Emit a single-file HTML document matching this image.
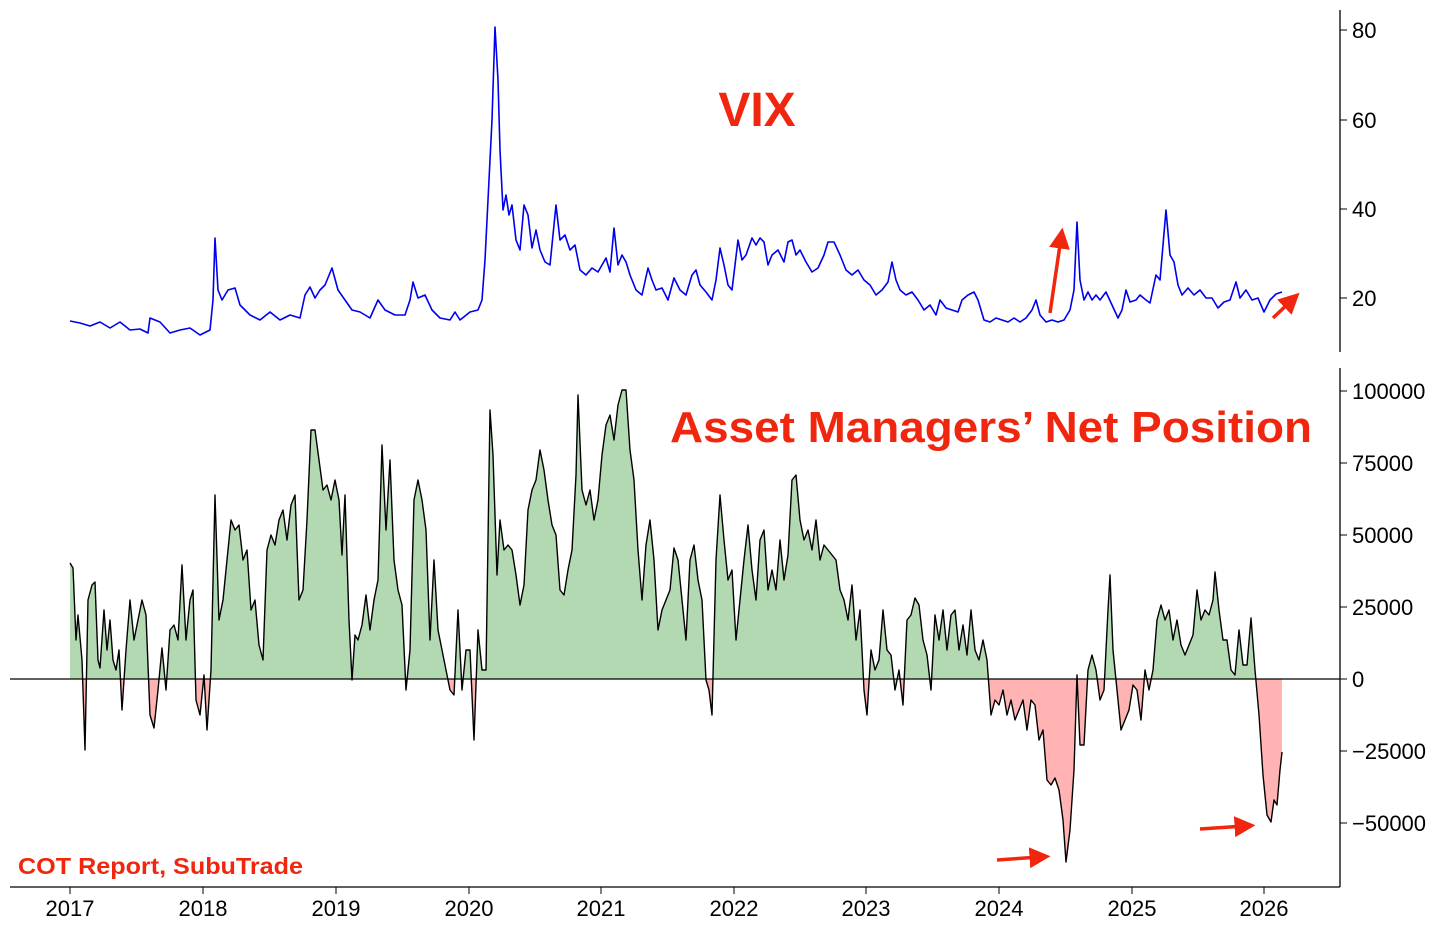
<!DOCTYPE html>
<html><head><meta charset="utf-8"><style>
html,body{margin:0;padding:0;background:#fff;}
svg{display:block;font-family:"Liberation Sans","DejaVu Sans",sans-serif;}
.t{font-size:22px;fill:#000;}
.r{fill:#f0260f;font-weight:bold;}
</style></head><body>
<svg width="1456" height="931" viewBox="0 0 1456 931" xmlns="http://www.w3.org/2000/svg">
<defs>
<clipPath id="cu"><rect x="0" y="0" width="1456" height="679"/></clipPath>
<clipPath id="cd"><rect x="0" y="679" width="1456" height="300"/></clipPath>
<marker id="ah" markerWidth="6" markerHeight="6" refX="3" refY="3" orient="auto" markerUnits="strokeWidth"><path d="M0,0 L6,3 L0,6 z" fill="#f0260f"/></marker>
<polygon id="pf" points="70,679 70,563 73,568 76,640 78,615 82,660 85,750 88,600 92,585 95,582 98,660 100,668 104,610 107,650 110,620 113,660 116,670 119,650 122,710 126,650 130,600 134,640 138,620 142,600 146,615 150,715 154,728 158,690 162,648 166,690 170,630 174,625 178,640 182,565 186,640 190,600 193,590 196,700 200,715 204,675 207,730 211,670 215,495 219,620 223,600 227,560 231,520 235,530 239,525 243,560 247,550 251,610 255,600 259,645 263,660 267,550 271,535 275,545 279,520 283,510 287,540 291,505 295,495 299,600 303,590 307,520 311,430 315,430 319,460 323,490 327,485 331,500 335,480 339,500 342,555 345,495 349,620 352,680 355,635 358,640 362,625 366,595 370,630 374,600 378,580 382,445 386,530 390,460 394,560 398,590 402,605 406,690 410,650 414,500 418,480 422,500 426,530 430,640 434,560 438,630 442,650 446,670 450,690 454,695 458,610 462,690 466,650 470,650 474,740 478,630 482,670 486,670 490,410 493,455 497,575 500,520 504,550 508,545 512,550 516,575 520,605 524,585 528,510 532,490 536,480 540,450 544,470 548,500 552,525 556,535 560,590 564,595 568,570 572,550 576,475 578,395 582,490 586,505 590,490 594,520 598,500 602,455 606,425 610,415 614,440 618,405 622,390 626,390 630,450 634,480 638,550 642,600 646,545 650,520 654,560 658,630 662,610 666,600 670,590 674,548 678,560 682,600 686,640 690,560 694,545 698,580 702,600 706,680 709,690 712,715 716,560 720,495 724,540 728,580 732,570 736,640 740,600 744,560 748,525 752,570 756,600 760,540 764,530 768,590 772,570 776,590 780,540 784,580 788,555 792,480 796,475 800,520 804,540 808,530 812,550 816,520 820,560 824,545 828,550 832,555 836,560 840,590 844,600 848,620 852,585 856,640 860,610 864,690 867,715 871,650 875,670 879,660 883,610 887,650 891,655 895,690 899,670 903,705 907,620 911,615 915,598 919,605 923,640 927,655 931,690 935,615 939,640 943,610 947,650 951,615 955,610 959,650 963,625 967,655 971,610 975,650 979,660 983,640 987,660 991,715 995,700 999,705 1003,690 1007,715 1011,700 1015,720 1019,710 1023,700 1027,730 1031,700 1035,705 1039,740 1043,730 1047,780 1051,785 1055,778 1059,790 1063,820 1066,862 1070,830 1074,770 1077,675 1080,745 1084,745 1088,670 1092,655 1096,670 1100,700 1104,690 1108,610 1110,575 1113,650 1117,690 1121,730 1125,720 1129,710 1133,685 1137,690 1141,720 1145,670 1149,690 1153,670 1157,620 1161,605 1165,620 1169,610 1173,640 1177,620 1181,645 1185,655 1189,645 1193,635 1197,590 1201,620 1205,610 1209,615 1213,600 1215,572 1219,610 1223,640 1227,640 1231,670 1235,675 1239,630 1243,665 1247,665 1251,618 1255,670 1259,715 1263,775 1267,815 1271,822 1274,800 1277,805 1280,770 1282,752 1282,679"/>
</defs>
<!-- top axis -->
<line x1="1340" y1="10" x2="1340" y2="352" stroke="#000" stroke-width="1.3"/>
<g class="t">
<line x1="1340" y1="30" x2="1347" y2="30" stroke="#000"/><text x="1352" y="38">80</text>
<line x1="1340" y1="120" x2="1347" y2="120" stroke="#000"/><text x="1352" y="128">60</text>
<line x1="1340" y1="209" x2="1347" y2="209" stroke="#000"/><text x="1352" y="217">40</text>
<line x1="1340" y1="298" x2="1347" y2="298" stroke="#000"/><text x="1352" y="306">20</text>
</g>
<polyline fill="none" stroke="#0000ee" stroke-width="1.6" stroke-linejoin="round" points="70,321 80,323 90,326 100,322 110,328 120,322 130,330 140,329 148,333 150,318 160,322 170,333 180,330 190,328 200,335 210,330 213,300 215,238 218,290 222,300 228,290 235,288 240,305 250,315 260,320 270,312 280,320 290,315 300,318 305,295 310,287 315,298 320,290 325,285 332,268 338,290 345,300 352,310 360,312 370,318 378,300 385,310 395,315 405,315 410,300 413,282 418,298 425,295 432,310 440,318 450,320 455,312 460,320 470,312 478,310 482,300 485,260 488,200 492,120 495,27 498,80 500,150 503,210 506,195 509,215 512,205 516,240 520,250 524,205 528,215 532,248 536,230 540,250 545,262 550,265 556,205 560,240 565,235 570,250 575,245 580,270 586,275 592,268 598,272 602,265 606,258 610,272 614,228 618,265 622,255 626,262 630,275 636,290 642,295 648,268 652,280 656,290 662,288 668,300 674,278 680,290 686,295 692,275 696,270 700,285 706,292 712,300 716,280 720,248 724,265 728,285 732,290 738,240 742,260 746,255 752,238 756,245 760,238 764,242 768,265 772,255 778,250 784,262 788,242 792,240 796,255 800,250 806,262 812,272 818,268 824,255 828,242 834,242 840,255 846,270 852,275 858,270 864,280 870,285 876,295 882,290 888,282 892,262 896,280 900,290 906,295 912,292 918,300 924,310 930,305 936,315 940,300 946,308 952,310 958,312 962,300 968,295 974,292 978,300 984,320 990,322 996,318 1002,320 1008,322 1014,318 1020,322 1026,318 1032,310 1036,300 1040,315 1046,322 1052,320 1058,322 1064,320 1070,310 1074,290 1077,222 1080,280 1084,300 1088,292 1092,300 1096,295 1100,300 1106,292 1112,305 1118,318 1122,310 1126,290 1130,302 1136,300 1140,295 1146,300 1150,303 1156,275 1160,280 1163,245 1166,210 1170,255 1174,262 1178,285 1182,295 1188,288 1194,295 1200,290 1206,298 1212,298 1218,308 1224,302 1230,300 1236,282 1240,298 1246,290 1252,300 1258,298 1264,312 1270,300 1276,294 1282,292"/>
<text x="757" y="126" text-anchor="middle" class="r" font-size="48">VIX</text>
<line x1="1050" y1="313" x2="1061" y2="238" stroke="#f0260f" stroke-width="3.5" marker-end="url(#ah)"/>
<line x1="1273" y1="318" x2="1292" y2="300" stroke="#f0260f" stroke-width="3.5" marker-end="url(#ah)"/>

<!-- bottom -->
<use href="#pf" fill="#b3d9b3" clip-path="url(#cu)"/>
<use href="#pf" fill="#ffb3b3" clip-path="url(#cd)"/>
<polyline fill="none" stroke="#000" stroke-width="1.4" stroke-linejoin="round" points="70,563 73,568 76,640 78,615 82,660 85,750 88,600 92,585 95,582 98,660 100,668 104,610 107,650 110,620 113,660 116,670 119,650 122,710 126,650 130,600 134,640 138,620 142,600 146,615 150,715 154,728 158,690 162,648 166,690 170,630 174,625 178,640 182,565 186,640 190,600 193,590 196,700 200,715 204,675 207,730 211,670 215,495 219,620 223,600 227,560 231,520 235,530 239,525 243,560 247,550 251,610 255,600 259,645 263,660 267,550 271,535 275,545 279,520 283,510 287,540 291,505 295,495 299,600 303,590 307,520 311,430 315,430 319,460 323,490 327,485 331,500 335,480 339,500 342,555 345,495 349,620 352,680 355,635 358,640 362,625 366,595 370,630 374,600 378,580 382,445 386,530 390,460 394,560 398,590 402,605 406,690 410,650 414,500 418,480 422,500 426,530 430,640 434,560 438,630 442,650 446,670 450,690 454,695 458,610 462,690 466,650 470,650 474,740 478,630 482,670 486,670 490,410 493,455 497,575 500,520 504,550 508,545 512,550 516,575 520,605 524,585 528,510 532,490 536,480 540,450 544,470 548,500 552,525 556,535 560,590 564,595 568,570 572,550 576,475 578,395 582,490 586,505 590,490 594,520 598,500 602,455 606,425 610,415 614,440 618,405 622,390 626,390 630,450 634,480 638,550 642,600 646,545 650,520 654,560 658,630 662,610 666,600 670,590 674,548 678,560 682,600 686,640 690,560 694,545 698,580 702,600 706,680 709,690 712,715 716,560 720,495 724,540 728,580 732,570 736,640 740,600 744,560 748,525 752,570 756,600 760,540 764,530 768,590 772,570 776,590 780,540 784,580 788,555 792,480 796,475 800,520 804,540 808,530 812,550 816,520 820,560 824,545 828,550 832,555 836,560 840,590 844,600 848,620 852,585 856,640 860,610 864,690 867,715 871,650 875,670 879,660 883,610 887,650 891,655 895,690 899,670 903,705 907,620 911,615 915,598 919,605 923,640 927,655 931,690 935,615 939,640 943,610 947,650 951,615 955,610 959,650 963,625 967,655 971,610 975,650 979,660 983,640 987,660 991,715 995,700 999,705 1003,690 1007,715 1011,700 1015,720 1019,710 1023,700 1027,730 1031,700 1035,705 1039,740 1043,730 1047,780 1051,785 1055,778 1059,790 1063,820 1066,862 1070,830 1074,770 1077,675 1080,745 1084,745 1088,670 1092,655 1096,670 1100,700 1104,690 1108,610 1110,575 1113,650 1117,690 1121,730 1125,720 1129,710 1133,685 1137,690 1141,720 1145,670 1149,690 1153,670 1157,620 1161,605 1165,620 1169,610 1173,640 1177,620 1181,645 1185,655 1189,645 1193,635 1197,590 1201,620 1205,610 1209,615 1213,600 1215,572 1219,610 1223,640 1227,640 1231,670 1235,675 1239,630 1243,665 1247,665 1251,618 1255,670 1259,715 1263,775 1267,815 1271,822 1274,800 1277,805 1280,770 1282,752"/>
<line x1="10" y1="679" x2="1340" y2="679" stroke="#000" stroke-width="1.3"/>
<line x1="1340" y1="368" x2="1340" y2="887" stroke="#000" stroke-width="1.3"/>
<line x1="10" y1="887" x2="1340" y2="887" stroke="#000" stroke-width="1.3"/>
<g class="t" stroke-width="1">
<line x1="1340" y1="391" x2="1347" y2="391" stroke="#000"/><text x="1352" y="399">100000</text>
<line x1="1340" y1="463" x2="1347" y2="463" stroke="#000"/><text x="1352" y="471">75000</text>
<line x1="1340" y1="535" x2="1347" y2="535" stroke="#000"/><text x="1352" y="543">50000</text>
<line x1="1340" y1="607" x2="1347" y2="607" stroke="#000"/><text x="1352" y="615">25000</text>
<line x1="1340" y1="679" x2="1347" y2="679" stroke="#000"/><text x="1352" y="687">0</text>
<line x1="1340" y1="751" x2="1347" y2="751" stroke="#000"/><text x="1352" y="759">−25000</text>
<line x1="1340" y1="823" x2="1347" y2="823" stroke="#000"/><text x="1352" y="831">−50000</text>
</g>
<g class="t" text-anchor="middle">
<line x1="70" y1="887" x2="70" y2="894" stroke="#000"/><text x="70" y="916">2017</text>
<line x1="203" y1="887" x2="203" y2="894" stroke="#000"/><text x="203" y="916">2018</text>
<line x1="336" y1="887" x2="336" y2="894" stroke="#000"/><text x="336" y="916">2019</text>
<line x1="469" y1="887" x2="469" y2="894" stroke="#000"/><text x="469" y="916">2020</text>
<line x1="601" y1="887" x2="601" y2="894" stroke="#000"/><text x="601" y="916">2021</text>
<line x1="734" y1="887" x2="734" y2="894" stroke="#000"/><text x="734" y="916">2022</text>
<line x1="866" y1="887" x2="866" y2="894" stroke="#000"/><text x="866" y="916">2023</text>
<line x1="999" y1="887" x2="999" y2="894" stroke="#000"/><text x="999" y="916">2024</text>
<line x1="1132" y1="887" x2="1132" y2="894" stroke="#000"/><text x="1132" y="916">2025</text>
<line x1="1264" y1="887" x2="1264" y2="894" stroke="#000"/><text x="1264" y="916">2026</text>
</g>
<text x="991" y="442" text-anchor="middle" class="r" font-size="44" textLength="642" lengthAdjust="spacingAndGlyphs">Asset Managers’ Net Position</text>
<text x="18" y="874" class="r" font-size="23" textLength="285" lengthAdjust="spacingAndGlyphs">COT Report, SubuTrade</text>
<line x1="997" y1="860" x2="1040" y2="857" stroke="#f0260f" stroke-width="3.5" marker-end="url(#ah)"/>
<line x1="1200" y1="829" x2="1245" y2="826" stroke="#f0260f" stroke-width="3.5" marker-end="url(#ah)"/>
</svg>
</body></html>
